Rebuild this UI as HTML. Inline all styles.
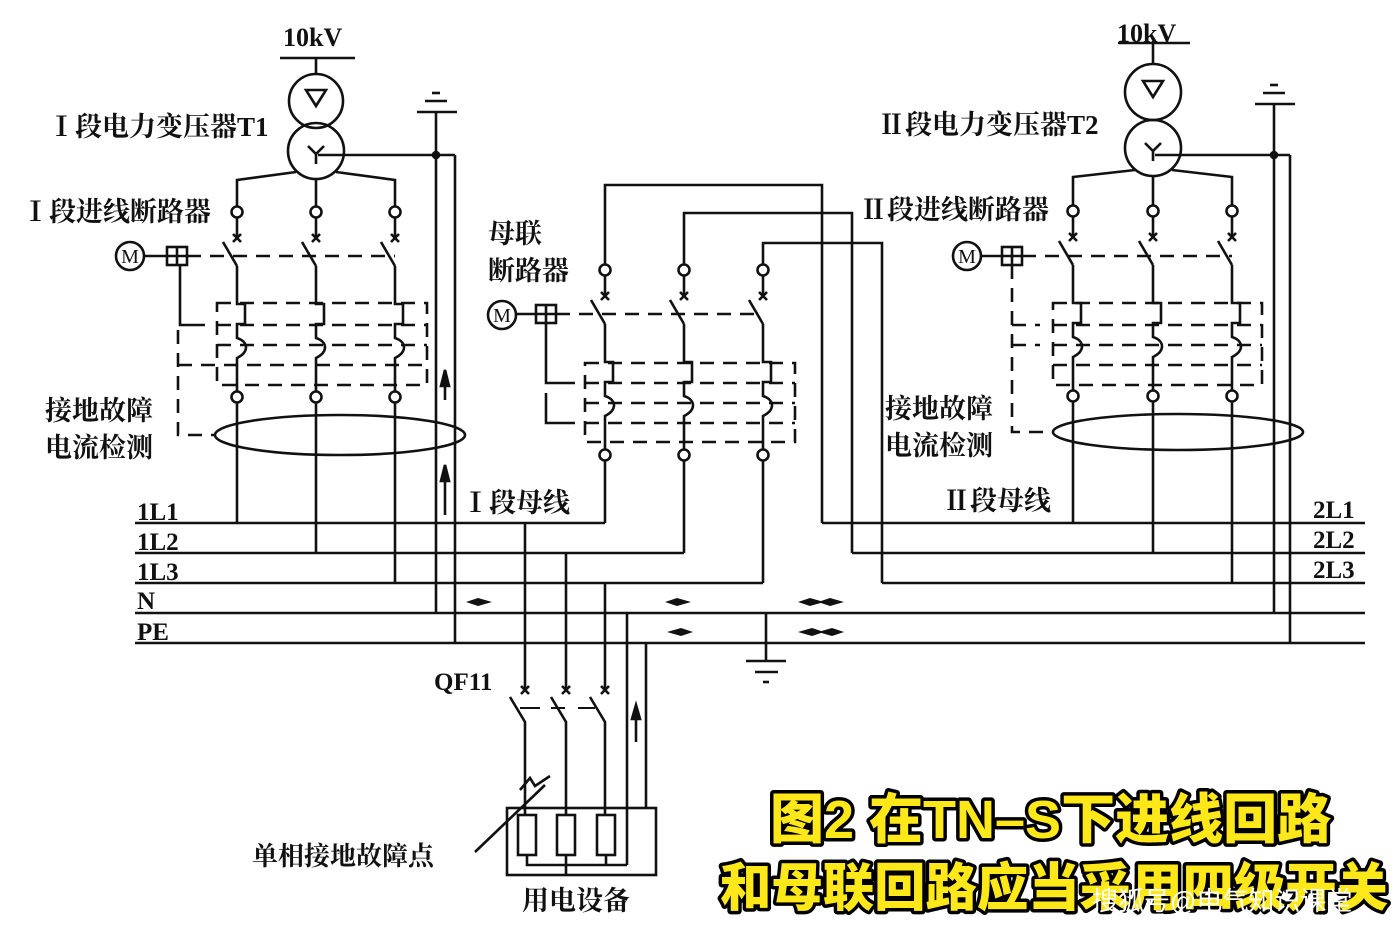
<!DOCTYPE html>
<html><head><meta charset="utf-8"><style>
html,body{margin:0;padding:0;background:#fff;}
svg{display:block;}
.t{font-family:"Liberation Serif","Noto Serif CJK SC",serif;font-weight:bold;fill:#111;}
.cap{font-family:"Liberation Sans","Noto Sans CJK SC",sans-serif;font-weight:900;fill:#ffe81a;stroke:#000;stroke-width:7;paint-order:stroke;stroke-linejoin:round;}
</style></head><body>
<svg width="1398" height="930" viewBox="0 0 1398 930" xmlns="http://www.w3.org/2000/svg">
<defs>
<g id="pole" fill="none" stroke="#111" stroke-width="2.6">
  <circle cx="0" cy="0" r="5.5" fill="#fff"/>
  <line x1="0" y1="5" x2="0" y2="26"/>
  <path d="M-4,22 L4,30 M4,22 L-4,30"/>
  <line x1="-14" y1="30" x2="0" y2="54"/>
  <path d="M0,54 V92 h8 v20 h-8 v14 c12,4 12,14 0,20 V180"/>
  <circle cx="0" cy="185" r="5.5" fill="#fff"/>
</g>
<g id="arrL"><path d="M0,0 L12,-4 L26,0 L12,4 Z" fill="#111"/></g>
<g id="arrR"><path d="M0,0 L14,-4 L26,0 L14,4 Z" fill="#111"/></g>
</defs>
<rect width="1398" height="930" fill="#fff"/>
<g fill="none" stroke="#111" stroke-width="2.6">
<line x1="135" y1="523" x2="605" y2="523"/>
<line x1="135" y1="553" x2="684" y2="553"/>
<line x1="135" y1="583" x2="763" y2="583"/>
<line x1="135" y1="613" x2="1365" y2="613"/>
<line x1="135" y1="643" x2="1365" y2="643"/>
<line x1="822" y1="523" x2="1365" y2="523"/>
<line x1="852" y1="553" x2="1365" y2="553"/>
<line x1="882" y1="583" x2="1365" y2="583"/>

<!-- Left transformer -->
<line x1="280" y1="58" x2="355" y2="58"/>
<line x1="316" y1="58" x2="316" y2="74"/>
<circle cx="316" cy="101" r="27"/>
<circle cx="316" cy="151" r="28"/>
<path d="M306,90 h20 l-10,16 z"/>
<path d="M308,146 l8,8 l8,-8 M316,154 v10"/>
<line x1="318" y1="155" x2="455" y2="155"/>
<line x1="455" y1="155" x2="455" y2="643"/>
<line x1="436" y1="112" x2="436" y2="613"/>
<circle cx="436" cy="155" r="3" fill="#111"/>
<line x1="417" y1="112" x2="457" y2="112"/>
<line x1="425" y1="101" x2="447" y2="101"/>
<line x1="432" y1="93" x2="440" y2="93"/>
<path d="M296,172 L237,180 V206 M316,179 V206 M336,172 L395,180 V206"/>
<use href="#pole" x="237" y="212"/><use href="#pole" x="316" y="212"/><use href="#pole" x="395" y="212"/>
<line x1="237" y1="402" x2="237" y2="523"/>
<line x1="316" y1="402" x2="316" y2="553"/>
<line x1="395" y1="402" x2="395" y2="583"/>
<circle cx="130" cy="256" r="14"/>
<line x1="144" y1="256" x2="167" y2="256"/>
<rect x="167" y="247" width="20" height="18"/>
<path d="M177,247 v18 M167,256 h20"/>
<line x1="187" y1="256" x2="395" y2="256" stroke-dasharray="14,9"/>
<path d="M180,265 V325 H205"/>
<path d="M217,303 H427 V385 H217 Z M217,325 H427 M217,345 H427 M178,365 H427" stroke-dasharray="14,9"/>
<path d="M178,330 V435 H215" stroke-dasharray="14,9"/>
<ellipse cx="340" cy="435" rx="125" ry="20"/>

<!-- Bus tie -->
<path d="M605,264 V185 H822 V523 M684,264 V213 H852 V553 M763,264 V243 H882 V583"/>
<use href="#pole" x="605" y="270"/><use href="#pole" x="684" y="270"/><use href="#pole" x="763" y="270"/>
<line x1="605" y1="460" x2="605" y2="523"/>
<line x1="684" y1="460" x2="684" y2="553"/>
<line x1="763" y1="460" x2="763" y2="583"/>
<circle cx="502" cy="315" r="14"/>
<line x1="516" y1="314" x2="536" y2="314"/>
<rect x="536" y="305" width="20" height="18"/>
<path d="M546,305 v18 M536,314 h20"/>
<line x1="556" y1="314" x2="763" y2="314" stroke-dasharray="14,9"/>
<path d="M546,323 V383 H575"/>
<path d="M546,393 V423 H575"/>
<path d="M585,363 H795 V442 H585 Z M585,383 H795 M585,403 H795 M585,423 H795" stroke-dasharray="14,9"/>

<!-- Right transformer -->
<line x1="1118" y1="43" x2="1190" y2="43"/>
<line x1="1153" y1="43" x2="1153" y2="64"/>
<circle cx="1153" cy="92" r="28"/>
<circle cx="1153" cy="148" r="28"/>
<path d="M1143,81 h20 l-10,16 z"/>
<path d="M1145,143 l8,8 l8,-8 M1153,151 v10"/>
<line x1="1155" y1="155" x2="1290" y2="155"/>
<line x1="1290" y1="155" x2="1290" y2="643"/>
<line x1="1274" y1="104" x2="1274" y2="613"/>
<circle cx="1274" cy="155" r="3" fill="#111"/>
<line x1="1255" y1="104" x2="1295" y2="104"/>
<line x1="1263" y1="93" x2="1285" y2="93"/>
<line x1="1270" y1="85" x2="1278" y2="85"/>
<path d="M1135,170 L1073,177 V205 M1153,176 V205 M1172,170 L1232,177 V205"/>
<use href="#pole" x="1073" y="211"/><use href="#pole" x="1153" y="211"/><use href="#pole" x="1232" y="211"/>
<line x1="1073" y1="401" x2="1073" y2="523"/>
<line x1="1153" y1="401" x2="1153" y2="553"/>
<line x1="1232" y1="401" x2="1232" y2="583"/>
<circle cx="967" cy="256" r="14"/>
<line x1="981" y1="256" x2="1002" y2="256"/>
<rect x="1002" y="247" width="20" height="18"/>
<path d="M1012,247 v18 M1002,256 h20"/>
<line x1="1022" y1="256" x2="1232" y2="256" stroke-dasharray="14,9"/>
<path d="M1012,265 V432 H1050 M1012,325 H1040 M1012,345 H1040" stroke-dasharray="14,9"/>
<path d="M1053,303 H1262 V385 H1053 Z M1053,325 H1262 M1053,345 H1262 M1053,365 H1262" stroke-dasharray="14,9"/>
<ellipse cx="1178" cy="432" rx="125" ry="18"/>

<!-- Load circuit -->
<path d="M525,523 V688 M566,553 V688 M605,583 V688 M627,613 V865 M646,643 V808"/>
<path d="M521,686 l8,8 M529,686 l-8,8 M562,686 l8,8 M570,686 l-8,8 M601,686 l8,8 M609,686 l-8,8"/>
<path d="M510,697 L525,722 V815 M551,697 L566,722 V815 M590,697 L605,722 V815"/>
<path d="M520,708 H540 M551,708 H565 M578,708 H595" stroke-width="2"/>
<rect x="507" y="808" width="149" height="67"/>
<rect x="518" y="815" width="18" height="40"/>
<rect x="557" y="815" width="18" height="40"/>
<rect x="597" y="815" width="18" height="40"/>
<path d="M527,855 V865 H627 M566,855 V875 M606,855 V865"/>
<path d="M475,852 L545,785 M520,790 l10,-12 l5,8 l15,-10"/>
<line x1="636" y1="712" x2="636" y2="742"/>
<path d="M636,705 l-4,14 h8 z" fill="#111"/>
<line x1="766" y1="613" x2="766" y2="661"/>
<line x1="746" y1="661" x2="786" y2="661"/>
<line x1="755" y1="672" x2="778" y2="672"/>
<line x1="763" y1="682" x2="769" y2="682"/>
<line x1="445" y1="375" x2="445" y2="400"/>
<path d="M445,370 l-4,16 h8 z" fill="#111"/>
<line x1="445" y1="475" x2="445" y2="515"/>
<path d="M445,465 l-4,16 h8 z" fill="#111"/>
</g>
<use href="#arrL" x="466" y="602"/>
<use href="#arrL" x="665" y="602"/>
<use href="#arrL" x="798" y="602"/><use href="#arrL" x="818" y="602"/>
<use href="#arrR" x="667" y="632"/>
<use href="#arrR" x="798" y="632"/><use href="#arrR" x="818" y="632"/>

<g font-family="Liberation Serif,serif" font-size="20" fill="#111" text-anchor="middle">
<text x="130" y="263">M</text><text x="502" y="322">M</text><text x="967" y="263">M</text>
</g>

<text class="t" x="283" y="46" font-size="26">10kV</text>
<text class="t" x="1117" y="42" font-size="26">10kV</text>
<text class="t" x="48" y="136" font-size="27">Ⅰ段电力变压器T1</text>
<text class="t" x="878" y="134" font-size="27">Ⅱ段电力变压器T2</text>
<text class="t" x="22" y="221" font-size="27">Ⅰ段进线断路器</text>
<text class="t" x="860" y="219" font-size="27">Ⅱ段进线断路器</text>
<text class="t" x="488" y="243" font-size="27">母联</text>
<text class="t" x="488" y="280" font-size="27">断路器</text>
<text class="t" x="45" y="420" font-size="27">接地故障</text>
<text class="t" x="45" y="457" font-size="27">电流检测</text>
<text class="t" x="885" y="418" font-size="27">接地故障</text>
<text class="t" x="885" y="455" font-size="27">电流检测</text>
<text class="t" x="462" y="512" font-size="27">Ⅰ段母线</text>
<text class="t" x="943" y="510" font-size="27">Ⅱ段母线</text>
<g class="t" font-size="25" font-weight="normal">
<text x="137" y="520">1L1</text><text x="137" y="550">1L2</text><text x="137" y="580">1L3</text>
<text x="137" y="609">N</text><text x="137" y="640">PE</text>
<text x="1313" y="518">2L1</text><text x="1313" y="548">2L2</text><text x="1313" y="578">2L3</text>
<text x="434" y="690">QF11</text>
</g>
<text class="t" x="252" y="865" font-size="26">单相接地故障点</text>
<text class="t" x="522" y="910" font-size="27" font-weight="normal">用电设备</text>

<text class="cap" x="770" y="838" font-size="54">图2 在TN–S下进线回路</text>
<text class="cap" x="720" y="906" font-size="52" textLength="668" lengthAdjust="spacingAndGlyphs">和母联回路应当采用四级开关</text>
<text x="1092" y="910" font-size="26" fill="#fff" font-family="Liberation Sans,'Noto Sans CJK SC',sans-serif">搜狐号@电气知识课堂</text>
</svg>
</body></html>
